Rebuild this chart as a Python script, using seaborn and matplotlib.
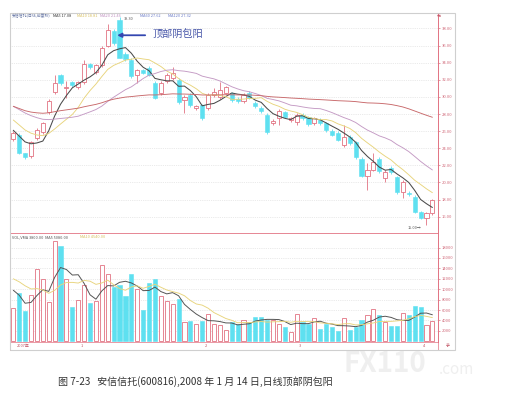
import matplotlib
matplotlib.use('Agg')
import matplotlib.pyplot as plt
from matplotlib.patches import Rectangle
import seaborn as sns
import pandas as pd
import numpy as np

# daily candles (price in yuan)
open_ = [25.1, 25.6, 23.4, 23.1, 25.2, 25.9, 28.2, 30.6, 32.5, 31.0,
         31.7, 31.1, 31.7, 33.8, 32.9, 33.7, 36.0, 37.7, 39.0, 35.0,
         34.3, 32.5, 33.1, 33.4, 31.6, 30.4, 31.8, 32.2, 32.0, 29.6,
         30.2, 28.7, 29.0, 28.7, 30.2, 30.0, 30.5, 30.4, 29.8, 29.5,
         30.5, 29.3, 28.7, 27.9, 26.9, 27.5, 28.2, 27.3, 27.1, 27.9,
         27.6, 26.9, 27.3, 26.9, 26.0, 25.8, 24.4, 25.3, 24.7, 22.8,
         20.8, 21.5, 22.8, 20.5, 21.7, 20.6, 18.9, 18.8, 18.3, 16.5,
         15.9, 16.4]
close = [25.8, 23.5, 23.0, 24.7, 26.1, 26.9, 29.5, 31.6, 31.6, 31.2,
         31.4, 31.7, 33.9, 33.5, 33.7, 35.7, 37.8, 36.3, 34.6, 34.4,
         32.4, 33.1, 32.8, 32.6, 29.9, 31.6, 32.5, 32.8, 29.4, 30.0,
         29.0, 28.9, 27.5, 30.2, 30.6, 30.8, 31.1, 29.6, 29.5, 30.2,
         29.9, 28.9, 28.3, 25.9, 27.2, 28.4, 27.7, 27.5, 27.9, 27.5,
         26.8, 27.5, 26.9, 26.1, 25.6, 25.0, 25.3, 24.6, 23.0, 20.8,
         21.5, 22.4, 21.3, 21.2, 21.2, 18.9, 20.1, 18.6, 16.6, 15.9,
         16.4, 17.9]
high = [26.0, 25.8, 23.5, 24.9, 26.4, 27.1, 29.8, 32.6, 32.7, 31.8,
        31.9, 31.9, 34.3, 34.0, 33.9, 36.0, 38.5, 37.9, 39.3, 35.2,
        34.5, 33.3, 33.2, 33.6, 31.8, 31.8, 32.8, 33.5, 32.2, 30.2,
        30.4, 29.1, 29.2, 30.4, 31.0, 31.7, 31.3, 30.6, 30.0, 30.4,
        30.7, 29.5, 28.9, 28.1, 27.4, 28.6, 28.4, 27.7, 28.1, 28.1,
        27.8, 27.7, 27.5, 27.1, 26.2, 26.0, 26.7, 25.5, 24.9, 23.0,
        22.3, 23.4, 23.0, 21.5, 21.9, 20.8, 20.3, 19.0, 18.5, 16.7,
        16.6, 18.1]
low = [24.9, 23.3, 22.8, 22.9, 25.0, 25.7, 28.0, 30.3, 31.4, 29.9,
       31.2, 30.9, 31.5, 33.3, 32.7, 33.5, 35.8, 36.1, 34.5, 34.2,
       32.2, 31.6, 32.7, 32.4, 29.7, 30.2, 31.6, 32.0, 29.2, 28.1,
       28.8, 28.5, 27.3, 28.5, 30.0, 29.8, 30.3, 29.4, 29.3, 29.3,
       29.7, 28.7, 28.1, 25.7, 26.7, 26.7, 27.5, 27.1, 26.7, 27.3,
       26.6, 26.7, 26.7, 25.9, 25.4, 24.8, 24.2, 24.4, 22.8, 20.6,
       19.1, 21.3, 21.1, 20.0, 21.0, 18.7, 18.2, 18.4, 16.4, 15.7,
       15.0, 16.2]
volume = [6300, 9200, 5800, 8800, 13800, 11900, 7600, 19200, 18300, 11900,
          6600, 7900, 10800, 7400, 7700, 14600, 13000, 10400, 10900, 8700,
          13000, 10000, 6000, 11100, 11900, 8700, 7800, 7200, 8100, 3600,
          3800, 3400, 3800, 5200, 3400, 3100, 2100, 3700, 3400, 4000,
          3600, 4700, 4700, 4000, 4000, 3400, 2800, 1800, 5300, 3600,
          3400, 4500, 2400, 3400, 2800, 1900, 4400, 2100, 2800, 4000,
          5100, 6200, 5100, 3600, 2900, 2900, 5500, 5100, 6800, 6600,
          3100, 3800]
# sessions just before the window (estimated from where the MA lines start)
earlier_close = [31.2, 31.0, 30.8, 30.9, 30.6, 30.3, 30.4, 30.1, 29.9, 29.8,
                 29.3, 28.9, 28.4, 28.2, 27.7, 26.9, 26.4, 25.8, 25.6]
earlier_vol = [15000, 13500, 14800, 13200, 14500, 14000, 13500, 8000, 7200]

price_ticks = [16, 18, 20, 22, 24, 26, 28, 30, 32, 34, 36, 38]
vol_ticks = [2000, 4000, 6000, 8000, 10000, 12000, 14000, 16000, 18000]
month_pos = [11, 32, 48, 69]
month_lab = ['1', '2', '3', '4']

PINK = '#e27282'
CYAN = '#5ee0f0'
GRAY = '#cfcfcf'
W, H = 512, 403

sns.set_theme(style='white')
plt.rcParams['font.family'] = ['Noto Sans CJK SC', 'DejaVu Sans']


def px(x, y):
    return x / W, 1 - y / H


idx = np.arange(len(close))
df = pd.DataFrame({'i': idx, 'open': open_, 'close': close, 'high': high,
                   'low': low, 'vol': volume})
df['up'] = df['close'] >= df['open']

all_close = pd.Series(earlier_close + close)
n0 = len(earlier_close)
for n in (5, 10, 20, 60):
    df[f'ma{n}'] = all_close.rolling(n, min_periods=1).mean().iloc[n0:].values
all_vol = pd.Series(earlier_vol + volume)
for n in (5, 10):
    df[f'vma{n}'] = all_vol.rolling(n, min_periods=1).mean().iloc[len(earlier_vol):].values

fig = plt.figure(figsize=(W / 100, H / 100), dpi=100)
fig.patch.set_facecolor('white')

ax = fig.add_axes([10 / W, 1 - 233 / H, 428 / W, 220 / H])
axv = fig.add_axes([10 / W, 1 - 342 / H, 428 / W, 109 / H])
axd = fig.add_axes([10 / W, 1 - 350 / H, 428 / W, 8 / H])

# outer frame
fig.patches.append(Rectangle(px(10, 350), 445 / W, 337 / H, transform=fig.transFigure,
                             fill=False, edgecolor=GRAY, linewidth=0.8))

up = df[df['up']]
dn = df[~df['up']]
bw = 0.7

# candles
ax.vlines(up['i'], up['low'], up['high'], color=PINK, linewidth=0.6, zorder=2)
ax.vlines(dn['i'], dn['low'], dn['high'], color=CYAN, linewidth=0.6, zorder=2)
ax.bar(up['i'], up['close'] - up['open'], bottom=up['open'], width=bw,
       facecolor='white', edgecolor=PINK, linewidth=0.6, zorder=3)
ax.bar(dn['i'], dn['open'] - dn['close'], bottom=dn['close'], width=bw,
       facecolor=CYAN, edgecolor=CYAN, linewidth=0.4, zorder=3)

ma_colors = {'ma5': '#4a4a4a', 'ma10': '#e8d47c', 'ma20': '#c49ac4', 'ma60': '#c8686a'}
for col, c in ma_colors.items():
    sns.lineplot(data=df, x='i', y=col, ax=ax, color=c,
                 linewidth=0.75 if col == 'ma5' else 0.65, zorder=4)

ax.set_xlim(-0.56, 71.95)
ax.set_ylim(14.1, 39.8)
ax.set_yticks(price_ticks)
ax.set_yticklabels([f'{t:.2f}' for t in price_ticks])
ax.set_xticks([])

# volume bars
axv.bar(up['i'], up['vol'], width=bw, facecolor='white', edgecolor=PINK,
        linewidth=0.6, zorder=3)
axv.bar(dn['i'], dn['vol'], width=bw, facecolor=CYAN, edgecolor=CYAN,
        linewidth=0.4, zorder=3)
sns.lineplot(data=df, x='i', y='vma5', ax=axv, color='#555555', linewidth=0.7, zorder=4)
sns.lineplot(data=df, x='i', y='vma10', ax=axv, color='#e8d47c', linewidth=0.65, zorder=4)
axv.set_xlim(-0.56, 71.95)
axv.set_ylim(-150, 20800)
axv.set_yticks(vol_ticks)
axv.set_yticklabels([str(t) for t in vol_ticks])
axv.set_xticks([])

for a in (ax, axv):
    a.set_xlabel('')
    a.set_ylabel('')
    a.yaxis.tick_right()
    a.tick_params(axis='y', right=True, length=1.5, width=0.5, color=PINK,
                  labelsize=3.0, labelcolor='#d06878', pad=1)
    a.grid(axis='y', linestyle=':', linewidth=0.5, color='#d6d6d6')
    a.set_facecolor('white')
    for s in ('left', 'top'):
        a.spines[s].set_color(GRAY)
        a.spines[s].set_linewidth(0.6)
    for s in ('right', 'bottom'):
        a.spines[s].set_color(PINK)
        a.spines[s].set_linewidth(0.7)
axv.spines['top'].set_color(PINK)

# date strip
axd.set_xlim(-0.56, 71.95)
axd.set_ylim(0, 1)
axd.set_yticks([])
axd.set_xticks(month_pos)
axd.set_xticklabels([])
axd.tick_params(axis='x', direction='in', length=2, width=0.5, color=PINK)
for s in axd.spines.values():
    s.set_color(PINK)
    s.set_linewidth(0.5)
axd.text(0.6, 0.5, '2007年', fontsize=2.8, color='#c05060', va='center')
for p, lab in zip(month_pos, month_lab):
    axd.text(p + 0.4, 0.5, lab, fontsize=2.8, color='#c05060', va='center')

# headers
fig.text(*px(12, 16), '安信信托(日线,前复权)', fontsize=2.8, color='#6070a0', va='center')
fig.text(*px(53, 16), f'MA5 {df["ma5"].iloc[-1]:.2f}', fontsize=2.8, color='#333333', va='center')
fig.text(*px(77, 16), f'MA10 {df["ma10"].iloc[-1]:.2f}', fontsize=2.8, color='#d8c060', va='center')
fig.text(*px(100, 16), f'MA20 {df["ma20"].iloc[-1]:.2f}', fontsize=2.8, color='#c090c0', va='center')
fig.text(*px(140, 16), f'MA60 {df["ma60"].iloc[-1]:.2f}', fontsize=2.8, color='#6a7ac8', va='center')
fig.text(*px(168, 16), f'MA120 {df["ma60"].iloc[-1] - 0.3:.2f}', fontsize=2.8, color='#6a7ac8', va='center')
fig.text(*px(437, 16), '元', fontsize=2.8, color='#c05060', va='center')
fig.text(*px(12, 237), f'VOL,VMA {df["vol"].iloc[-1]:.2f}  MA5 {df["vma5"].iloc[-1]:.2f}',
         fontsize=2.8, color='#555555', va='center')
fig.text(*px(80, 237), f'MA10 {df["vma10"].iloc[-1]:.2f}', fontsize=2.8, color='#d8c060', va='center')
fig.text(*px(446, 346), '手', fontsize=2.8, color='#c05060', va='center')

# extreme labels
top_i = int(df['high'].idxmax())
bot_i = int(df['low'].idxmin())
ax.text(top_i + 0.8, df['high'].iloc[top_i], f'{df["high"].iloc[top_i]:.2f}',
        fontsize=2.8, color='#555555', va='top')
ax.text(bot_i - 0.8, df['low'].iloc[bot_i] - 0.1, f'{df["low"].iloc[bot_i]:.2f}→',
        fontsize=2.8, color='#555555', va='top', ha='right')

# annotation
ax.annotate('顶部阴包阳', xy=(top_i - 0.4, 37.2), xytext=(23.6, 37.2),
            fontsize=7.3, color='#4655a8', va='center', ha='left',
            arrowprops=dict(arrowstyle='-|>', color='#3447b0', lw=1.3,
                            mutation_scale=6, shrinkA=3, shrinkB=0))

# caption and watermark
fig.text(*px(343, 364), 'FX110', fontsize=20, color='#efefef', ha='left', va='center',
         fontweight='bold', zorder=0)
fig.text(*px(439, 369), '.com', fontsize=11, color='#efefef', ha='left', va='center', zorder=0)
fig.text(*px(58, 382), '图 7-23   安信信托(600816),2008 年 1 月 14 日,日线顶部阴包阳',
         fontsize=7.2, color='#333333', ha='left', va='center')

fig.savefig('out.png', dpi=100, facecolor='white')
